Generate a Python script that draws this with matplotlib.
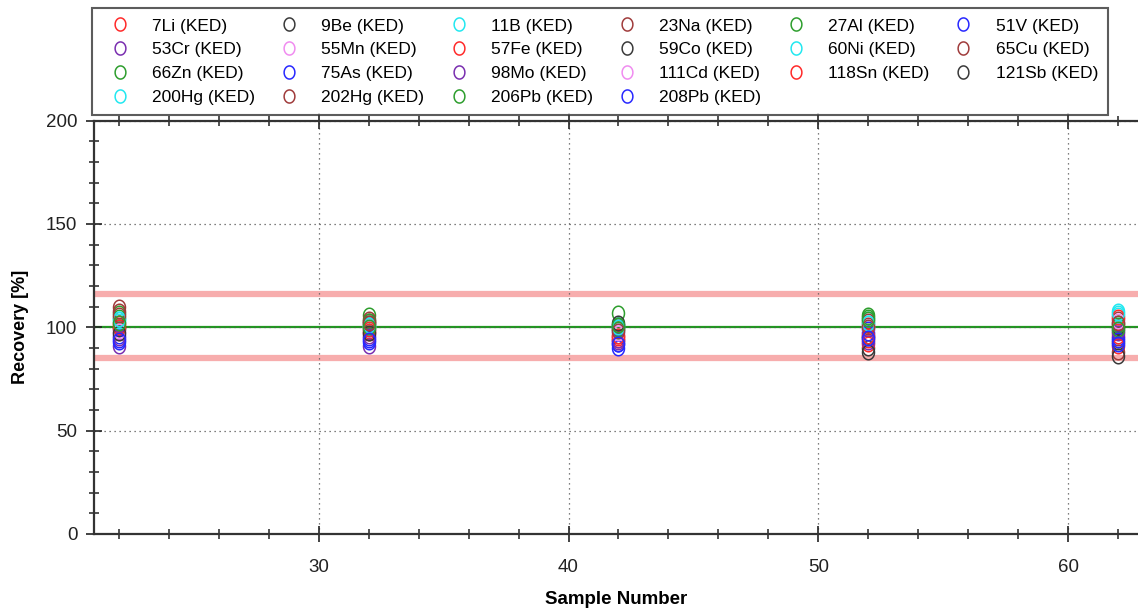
import matplotlib
matplotlib.use("Agg")
import matplotlib.pyplot as plt
import numpy as np
from matplotlib.path import Path
from matplotlib.ticker import MultipleLocator

plt.rcParams['font.family'] = ['Liberation Sans', 'DejaVu Sans']

elements = ["7Li", "9Be", "11B", "23Na", "27Al", "51V", "53Cr", "55Mn", "57Fe",
            "59Co", "60Ni", "65Cu", "66Zn", "75As", "98Mo", "111Cd", "118Sn",
            "121Sb", "200Hg", "202Hg", "206Pb", "208Pb"]
samples = [22, 32, 42, 52, 62]
recovery = {
    "7Li":   [101, 98, 95, 94, 96],
    "9Be":   [99, 101, 101, 90, 93],
    "11B":   [104, 100, 101, 102, 108],
    "23Na":  [110, 103, 99, 101, 104],
    "27Al":  [107, 106, 107, 106, 102],
    "51V":   [96, 95, 92, 99, 95],
    "53Cr":  [91, 91, 93, 95, 97],
    "55Mn":  [97, 99, 97, 97, 99],
    "57Fe":  [102, 97, 94, 92, 91],
    "59Co":  [100, 102, 100, 96, 100],
    "60Ni":  [103, 99, 98, 104, 106],
    "65Cu":  [108, 104, 96, 103, 88],
    "66Zn":  [105, 103, 99, 105, 101],
    "75As":  [93, 93, 90, 97, 94],
    "98Mo":  [95, 96, 94, 93, 98],
    "111Cd": [98, 100, 97, 100, 103],
    "118Sn": [100, 99, 96, 96, 105],
    "121Sb": [97, 97, 102, 88, 86],
    "200Hg": [104, 101, 100, 102, 107],
    "202Hg": [106, 102, 98, 100, 102],
    "206Pb": [102, 100, 101, 104, 99],
    "208Pb": [94, 94, 92, 95, 92],
}
target = 100
upper_limit = 116
lower_limit = 85

palette = ["#ff2a2a", "#3a3a3a", "#22e8f0", "#a03c3c", "#2e9e2e", "#2828ff",
           "#7a2fb0", "#f08cf0"]

# slightly tall elliptical open marker
theta = np.linspace(0, 2 * np.pi, 41)
ellipse = Path(np.column_stack([0.82 * np.cos(theta), np.sin(theta)]), closed=True)

fig = plt.figure(figsize=(11.38, 6.12), dpi=100)
ax = fig.add_axes([94/1138, 1-534/612, 1-94/1138, (534-120.5)/612])

ax.axhline(upper_limit, color="#f7adad", lw=4.5, zorder=1)
ax.axhline(lower_limit, color="#f7adad", lw=4.5, zorder=1)
ax.axhline(target, color="#1f9a1f", lw=1.6, zorder=1.5)

handles = []
for i, el in enumerate(elements):
    c = palette[i % len(palette)]
    h, = ax.plot(samples, recovery[el], linestyle="none", marker=ellipse,
                 markersize=10.5, markerfacecolor="none", markeredgecolor=c,
                 markeredgewidth=1.1, label=f"{el} (KED)", zorder=3)
    handles.append(h)

ax.set_xlim(21, 62.8)
ax.set_ylim(0, 200)
ax.xaxis.set_major_locator(MultipleLocator(10))
ax.xaxis.set_minor_locator(MultipleLocator(2))
ax.yaxis.set_major_locator(MultipleLocator(50))
ax.yaxis.set_minor_locator(MultipleLocator(10))
ax.grid(True, which="major", color="#555555", linestyle=(0, (1, 3)), lw=0.9, zorder=2)

for s in ["left", "bottom", "top"]:
    ax.spines[s].set_color("#333333")
    ax.spines[s].set_linewidth(1.6)
ax.spines["right"].set_visible(False)

ax.tick_params(axis="both", which="major", direction="inout", length=12, width=1.2,
               colors="#222222", labelsize=13.5, top=True)
ax.tick_params(axis="both", which="minor", direction="inout", length=7, width=1.1,
               colors="#222222", top=True)
ax.tick_params(axis="x", which="both", top=True)
ax.tick_params(axis="x", pad=12)
ax.tick_params(axis="y", pad=6)

ax.set_xlabel("Sample Number", fontsize=13.5, fontweight="bold", labelpad=11)
ax.set_ylabel("Recovery [%]", fontsize=13, fontweight="bold", labelpad=12)

ncol = 6
nrow = 4
order = []
for c in range(ncol):
    for r in range(nrow):
        idx = r * ncol + c
        if idx < len(handles):
            order.append(idx)
leg = fig.legend([handles[i] for i in order], [handles[i].get_label() for i in order],
                 ncol=ncol, loc="upper left", bbox_to_anchor=(92/1138, 1-8/612),
                 fontsize=12.5, frameon=True, fancybox=False, borderpad=0.6,
                 labelspacing=0.5, handlelength=2.0, handletextpad=0.85,
                 columnspacing=0.98, borderaxespad=0, markerscale=0.9)
leg.get_frame().set_edgecolor("#333333")
leg.get_frame().set_linewidth(1.5)

fig.savefig("out.png", dpi=100)
